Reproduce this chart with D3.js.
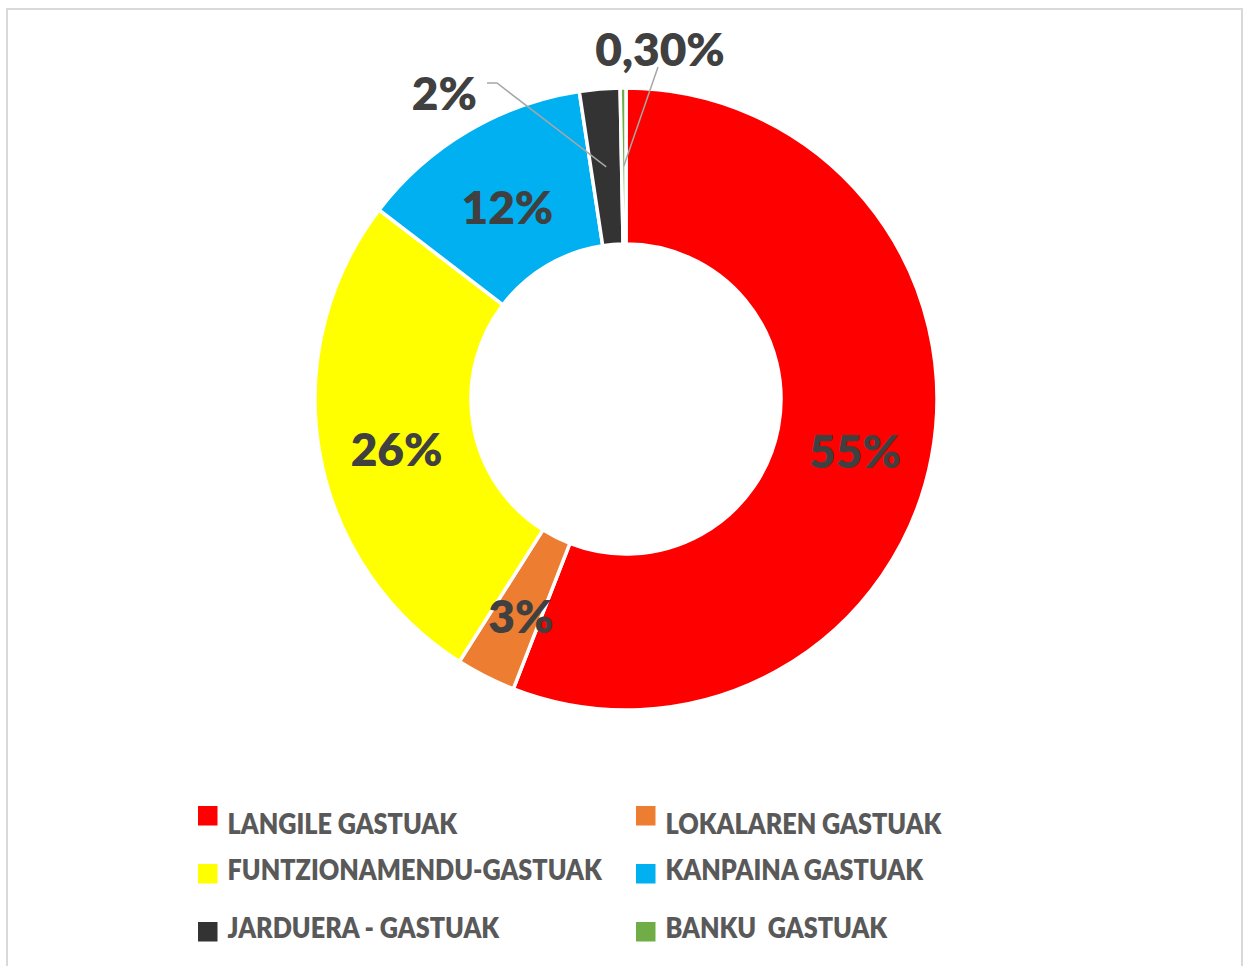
<!DOCTYPE html>
<html>
<head>
<meta charset="utf-8">
<script src="https://cdn.jsdelivr.net/npm/d3@7"></script>
<style>
  html, body { margin: 0; padding: 0; background: #fff; }
  svg { display: block; }
</style>
</head>
<body>
<svg id="chart" width="1247" height="966"></svg>
<script>
// ---- data ----
const categories = ["LANGILE GASTUAK", "LOKALAREN GASTUAK", "FUNTZIONAMENDU-GASTUAK", "KANPAINA GASTUAK", "JARDUERA - GASTUAK", "BANKU  GASTUAK"];
const values = [55.9, 3.1, 26.4, 12.2, 2.1, 0.3];
const labels = ["55%", "3%", "26%", "12%", "2%", "0,30%"];
const colors = ["#FF0000", "#ED7D31", "#FFFF00", "#00B0F0", "#333333", "#70AD47"];
const legendOrder = [0, 1, 2, 3, 4, 5];

// ---- layout ----
const cx = 626, cy = 399;
const rOuter = 311, rInner = 155;
const svg = d3.select("#chart");

svg.append("rect")
  .attr("x", 7).attr("y", 9)
  .attr("width", 1235).attr("height", 980)
  .attr("fill", "#fff")
  .attr("stroke", "#d9d9d9").attr("stroke-width", 2);

const data = categories.map((c, i) => ({ name: c, value: values[i], label: labels[i], color: colors[i], i }));

const pie = d3.pie().sort(null).value(d => d.value);
const arc = d3.arc().innerRadius(rInner).outerRadius(rOuter);
const mid = d3.arc().innerRadius((rInner + rOuter) / 2).outerRadius((rInner + rOuter) / 2);
const arcs = pie(data);

const g = svg.append("g").attr("transform", `translate(${cx},${cy})`);

g.selectAll("path.slice")
  .data(arcs)
  .join("path")
  .attr("class", "slice")
  .attr("d", arc)
  .attr("fill", d => d.data.color)
  .attr("stroke", "#fff")
  .attr("stroke-width", 3.5)
  .attr("stroke-linejoin", "miter");

const labelFont = "Lato, 'Open Sans', sans-serif";
const labelColor = "#404040";
const labelWeight = 800;

// inside labels
arcs.filter(d => d.data.value >= 3).forEach(d => {
  const [x, y] = mid.centroid(d);
  g.append("text")
    .attr("x", x).attr("y", y + 26)
    .attr("text-anchor", "middle")
    .attr("font-family", labelFont)
    .attr("font-weight", labelWeight)
    .attr("font-size", 46)
    .attr("fill", labelColor)
    .text(d.data.label);
});

// outside labels with leader lines (small slices)
const outside = arcs.filter(d => d.data.value < 3);
{
  const d = outside[0];
  const [x, y] = mid.centroid(d);
  const ex = -129, ey = -316;
  g.append("polyline")
    .attr("points", `${x},${y} ${ex},${ey} ${ex - 10},${ey}`)
    .attr("fill", "none").attr("stroke", "#a6a6a6").attr("stroke-width", 1.5);
  g.append("text")
    .attr("x", ex - 20).attr("y", ey + 27)
    .attr("text-anchor", "end")
    .attr("font-family", labelFont).attr("font-weight", labelWeight)
    .attr("font-size", 46).attr("fill", labelColor)
    .text(d.data.label);
}
{
  const d = outside[1];
  const [x, y] = mid.centroid(d);
  const ex = 32, ey = -332;
  g.append("line")
    .attr("x1", x).attr("y1", y).attr("x2", ex).attr("y2", ey)
    .attr("stroke", "#a6a6a6").attr("stroke-width", 1.5);
  g.append("text")
    .attr("x", ex + 2).attr("y", ey - 1)
    .attr("text-anchor", "middle")
    .attr("font-family", labelFont).attr("font-weight", labelWeight)
    .attr("font-size", 46).attr("fill", labelColor)
    .text(d.data.label);
}

// ---- legend ----
const colX = [198, 636];
const rowY = [806, 864, 922];
const textY = [834, 880, 938];
const leg = svg.append("g");
legendOrder.forEach((idx, k) => {
  const col = k % 2, row = Math.floor(k / 2);
  const x = colX[col], y = rowY[row];
  leg.append("rect")
    .attr("x", x).attr("y", y)
    .attr("width", 19.5).attr("height", 19.5)
    .attr("fill", colors[idx]);
  const t = leg.append("text")
    .attr("x", x + 29.5).attr("y", textY[row])
    .attr("font-family", labelFont)
    .attr("font-weight", labelWeight)
    .attr("font-size", 28)
    .attr("fill", "#595959")
    .attr("xml:space", "preserve")
    .style("white-space", "pre")
    .text(categories[idx]);
  const len = t.node().getComputedTextLength();
  t.attr("textLength", len * 0.9).attr("lengthAdjust", "spacingAndGlyphs");
});
</script>
</body>
</html>
